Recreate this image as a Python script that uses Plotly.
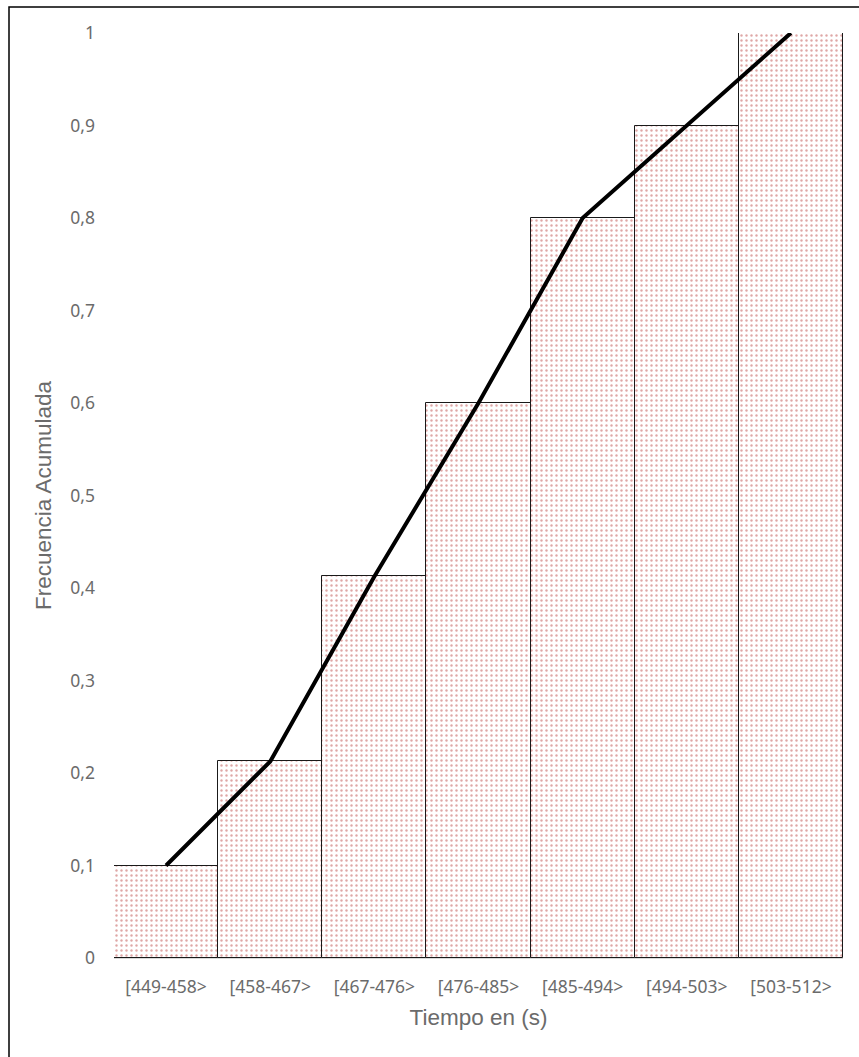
import plotly.graph_objects as go

# Intervalos de tiempo (s) y frecuencia relativa acumulada
intervalos = ["[449-458>", "[458-467>", "[467-476>", "[476-485>",
              "[485-494>", "[494-503>", "[503-512>"]
frec_acumulada = [0.1, 0.2125, 0.4125, 0.6, 0.8, 0.9, 1.0]

y_ticks = [0, 0.1, 0.2, 0.3, 0.4, 0.5, 0.6, 0.7, 0.8, 0.9, 1]
y_tick_text = ["0", "0,1", "0,2", "0,3", "0,4", "0,5", "0,6", "0,7", "0,8", "0,9", "1"]

W, H = 859, 1057
L, R, T, B = 114, 16, 33, 99
pw, ph = W - L - R, H - T - B

fig = go.Figure()

# Histograma acumulado (barras contiguas con relleno punteado)
fig.add_trace(go.Bar(
    x=intervalos,
    y=frec_acumulada,
    width=1.0,
    marker=dict(
        color="white",
        line=dict(color="#1a1a1a", width=1),
        pattern=dict(shape=".", fgcolor="#c0504d", bgcolor="white",
                     size=5, solidity=0.18),
    ),
    showlegend=False,
    hoverinfo="x+y",
))

# Ojiva sobre los centros de clase
fig.add_trace(go.Scatter(
    x=intervalos,
    y=frec_acumulada,
    mode="lines",
    line=dict(color="black", width=4),
    cliponaxis=False,
    showlegend=False,
))

tick_font = dict(family="Noto Sans, Open Sans, sans-serif", size=17.5, color="#6b6b6b")
title_font = dict(family="Liberation Sans, Arial, sans-serif", size=22.5, color="#6b6b6b")

fig.update_layout(
    width=W, height=H,
    margin=dict(l=L, r=R, t=T, b=B),
    paper_bgcolor="white",
    plot_bgcolor="white",
    bargap=0,
    xaxis=dict(
        range=[-0.5, 6.5],
        showgrid=False,
        showline=True, linecolor="#d9d9d9", linewidth=1,
        ticks="",
        tickfont=tick_font,
        ticklabelstandoff=13,
        title=dict(text="Tiempo en (s)", font=title_font, standoff=12),
        fixedrange=True,
    ),
    yaxis=dict(
        range=[0, 1],
        tickvals=y_ticks,
        ticktext=y_tick_text,
        showgrid=False,
        zeroline=False,
        showline=False,
        ticks="",
        tickfont=tick_font,
        ticklabelstandoff=18,
        title=dict(text="Frecuencia Acumulada", font=title_font, standoff=12),
        fixedrange=True,
    ),
    shapes=[
        # Marco exterior del gráfico
        dict(type="rect", xref="paper", yref="paper",
             x0=(9 - L) / pw, x1=(W + 20 - L) / pw,
             y0=-(H + 20 - T - ph) / ph, y1=(H - B - 7) / ph,
             line=dict(color="black", width=1.5), fillcolor="rgba(0,0,0,0)",
             layer="above"),
    ],
)

fig.write_html("out.html")
